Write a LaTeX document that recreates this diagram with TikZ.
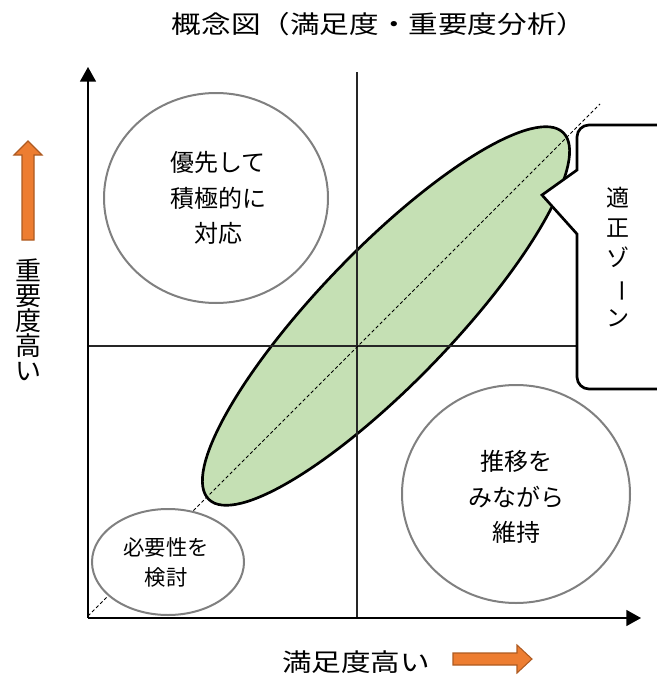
\documentclass[tikz,border=0pt]{standalone}
\usepackage{graphicx}
\usepackage{fontspec}
\setmainfont{Noto Sans CJK JP}
\usetikzlibrary{arrows.meta}
\definecolor{zonegreen}{HTML}{C5E0B4}
\definecolor{arroworange}{HTML}{ED7D31}
\definecolor{arrowedge}{HTML}{AE5A21}
\definecolor{bubblegray}{HTML}{808080}
\newcommand{\stretchx}[1]{\scalebox{1.2}[1]{#1}}

\begin{document}
\begin{tikzpicture}[x=0.75pt, y=-0.75pt,
	axisline/.style={line width=1.1pt, -{Triangle[length=11pt, width=12pt]}},
	midline/.style={line width=0.8pt, black!85},
	bubble/.style={draw=bubblegray, line width=1.5pt, fill=white},
	bubbletext/.style={align=center, font=\fontsize{18}{26.6}\selectfont},
	widetext/.style={font=\fontsize{18.5}{22}\selectfont},
	blockarrow/.style={fill=arroworange, draw=arrowedge, line width=0.8pt}]
	\useasboundingbox (0,0) rectangle (657,675);
	\clip (0,0) rectangle (657,675);

	\coordinate (O) at (88,618);
	\coordinate (ytop) at (88,67);
	\coordinate (xend) at (641,618);
	\coordinate (vtop) at (357,72);
	\coordinate (vbot) at (357,618);
	\coordinate (hleft) at (88,346);
	\coordinate (hright) at (578,346);
	\coordinate (dstart) at (88,616);
	\coordinate (dend) at (600,104);

	\filldraw[fill=zonegreen, draw=black, line width=2pt, rotate around={46:(386,316)}] (386,316) ellipse [x radius=255, y radius=67];
	\draw[midline] (vtop) -- (vbot);
	\draw[midline] (hleft) -- (hright);
	\draw[line width=0.7pt, dash pattern=on 2.5pt off 1.8pt] (dstart) -- (dend);

	\draw[bubble] (216,198) ellipse [x radius=112, y radius=105];
	\draw[bubble] (516,494) ellipse [x radius=114, y radius=109];
	\draw[bubble] (168,562) ellipse [x radius=76, y radius=53];

	\filldraw[fill=white, draw=black, line width=2pt] (680,125) [rounded corners=9pt] -- (577,125) [sharp corners] -- (577,170) -- (542,195) -- (577,234) [rounded corners=9pt] -- (577,389) -- (680,389);

	\draw[axisline] (O) -- (ytop);
	\draw[axisline] (O) -- (xend);

	\filldraw[blockarrow] (22,240) -- (22,155) -- (14,155) -- (28,141) -- (42,155) -- (34,155) -- (34,240) -- cycle;
	\filldraw[blockarrow] (453,653) -- (517,653) -- (517,645) -- (532,659) -- (517,673) -- (517,665) -- (453,665) -- cycle;

	\node[widetext] (title) at (379,24) {\stretchx{概念図（満足度・重要度分析）}};
	\node[widetext] (xlabel) at (356,662) {\stretchx{満足度高い}};
	\node[align=center, font=\fontsize{19.5}{18.75}\selectfont] (ylabel) at (28,320) {重\\要\\度\\高\\い};
	\node[bubbletext] (priority) at (218,198) {優先して\\積極的に\\対応};
	\node[bubbletext] (monitor) at (516,497) {推移を\\みながら\\維持};
	\node[bubbletext, font=\fontsize{16}{22.5}\selectfont] (review) at (166,562) {必要性を\\検討};
	\node[align=center, font=\fontsize{17.25}{22.5}\selectfont] (zone) at (618,257) {適\\正\\ゾ\\\rotatebox[origin=c]{-90}{ー}\\ン};
\end{tikzpicture}
\end{document}
